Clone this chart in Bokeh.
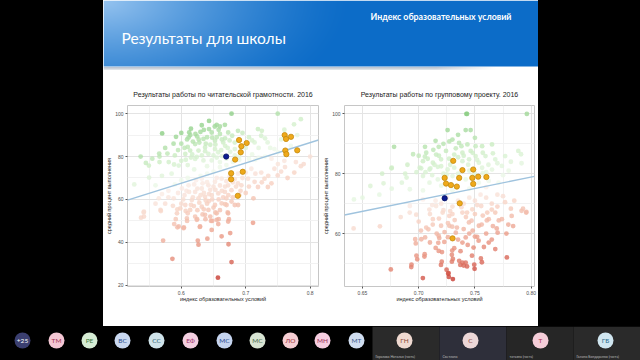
import numpy as np
from bokeh.plotting import figure
from bokeh.layouts import column, row
from bokeh.models import Range1d, FixedTicker, ColumnDataSource
from bokeh.core.properties import value
from bokeh.embed import file_html
from bokeh.resources import INLINE

# ---------------- data: reading literacy chart ----------------
lit_title = "Результаты работы по читательской грамотности. 2016"
lit_x = [0.678, 0.7497, 0.7856, 0.5703, 0.5918, 0.5369, 0.5662, 0.6113, 0.6123, 0.6318, 0.6431, 0.6549, 0.6677,
         0.6297, 0.6472, 0.66, 0.6728, 0.679, 0.6344, 0.6523, 0.6651, 0.6215, 0.6369, 0.6523, 0.6267, 0.6138,
         0.6421, 0.6574, 0.6062, 0.6215, 0.6344, 0.6472, 0.66, 0.6831, 0.6831, 0.719, 0.724, 0.734, 0.7138,
         0.7446, 0.5657, 0.5785, 0.5888, 0.5662, 0.609, 0.614, 0.635, 0.652, 0.66, 0.6246, 0.527, 0.55, 0.56,
         0.596, 0.5805, 0.5497, 0.6, 0.605, 0.618, 0.628, 0.64, 0.655, 0.668, 0.672, 0.662, 0.645, 0.632, 0.615,
         0.64, 0.655, 0.67, 0.68, 0.69, 0.7, 0.705, 0.71, 0.72, 0.73, 0.74, 0.75, 0.755, 0.77, 0.78, 0.6, 0.59,
         0.575, 0.555, 0.545, 0.62, 0.61, 0.585, 0.57, 0.65, 0.66, 0.67, 0.64, 0.63, 0.61, 0.6, 0.69, 0.705,
         0.715, 0.72,
         0.615, 0.622, 0.627, 0.638, 0.643, 0.648, 0.653, 0.658, 0.663, 0.668, 0.675, 0.683, 0.688, 0.61,
         0.617, 0.624, 0.637, 0.65, 0.663, 0.676, 0.607, 0.595, 0.588, 0.6, 0.695, 0.71, 0.725, 0.73, 0.738,
         0.76, 0.775,
         0.601, 0.6113, 0.6215, 0.6318, 0.6421, 0.6523, 0.6626, 0.6728, 0.6318, 0.6164, 0.6267, 0.6369, 0.6472,
         0.6574, 0.6677, 0.6779, 0.6062, 0.5985, 0.5933, 0.6138, 0.6318, 0.6421, 0.6523, 0.6626, 0.6703, 0.6549,
         0.6369, 0.6215, 0.6087, 0.596, 0.6036, 0.6241, 0.6462, 0.6549, 0.6574, 0.6472, 0.6292, 0.6728, 0.6728,
         0.542, 0.542, 0.5677, 0.5651, 0.5882, 0.6882, 0.6933, 0.7036, 0.7138, 0.7292, 0.719, 0.7344, 0.7446,
         0.761, 0.7779, 0.7856, 0.7754, 0.7497, 0.7087, 0.6882, 0.7241,
         0.6569, 0.678, 0.5862, 0.7113, 0.5718, 0.6256, 0.6267, 0.6405, 0.6733, 0.6759, 0.6626, 0.6288, 0.594,
         0.604, 0.589, 0.5914, 0.609, 0.6246, 0.6375, 0.648, 0.658, 0.653, 0.635, 0.65, 0.6426, 0.6195, 0.6068,
         0.5939, 0.5683, 0.5375, 0.5416, 0.672, 0.674, 0.683, 0.668,
         0.605, 0.612, 0.62, 0.625, 0.635, 0.64, 0.645, 0.65, 0.655, 0.66, 0.665, 0.67, 0.675, 0.68, 0.685, 0.69,
         0.595, 0.59, 0.58, 0.575, 0.615, 0.628, 0.64, 0.658, 0.67, 0.68, 0.695, 0.7, 0.705, 0.715, 0.725, 0.735,
         0.74, 0.755, 0.765, 0.79, 0.8, 0.76, 0.75, 0.7, 0.712,
         0.603, 0.608, 0.618, 0.623, 0.63, 0.633, 0.638, 0.643, 0.648, 0.653, 0.663, 0.668, 0.673, 0.678, 0.683,
         0.688, 0.692, 0.61, 0.625, 0.633, 0.645, 0.66, 0.6, 0.587, 0.58, 0.57, 0.56]
lit_y = [100, 100, 97.4, 90.8, 89.2, 80, 80, 88.9, 91.2, 94.6, 96.6, 94.8, 94.8,
         91.5, 91.2, 90.5, 91.2, 89.7, 88.2, 87.4, 86.6, 85.8, 84.3, 83.5, 82.8, 82.8,
         81.2, 82, 81.2, 78.9, 78.2, 78.2, 77.4, 83.5, 80.5, 92.8, 89.7, 86.6, 86.6,
         83.5, 81.4, 81.4, 76.3, 77.4, 88, 90, 92.4, 94, 94, 89.4, 67, 70.2, 66.6,
         75.8, 77.4, 75.8, 86, 84, 87, 86.5, 89, 89, 88.5, 84, 83, 85.5, 80.5, 79.5,
         75.5, 79.5, 79, 77.5, 78.5, 84, 89, 81, 84, 80, 79, 82, 88, 85, 90, 78, 80.5,
         84, 79, 77, 74, 76, 72, 71, 73, 75, 76, 72, 71, 70, 69, 80, 79,
         78.5, 79.5,
         93, 90.5, 88, 86, 92.8, 88.8, 85.6, 92.5, 88, 85, 87.5, 86.5, 92, 84.5,
         81, 79.8, 82.5, 80.5, 80.2, 82.2, 78.5, 83, 86, 91, 91, 87.5, 92, 88.5, 84,
         92.5, 95,
         65.1, 66.6, 63.5, 65.1, 66.6, 68.2, 69.7, 66.6, 69.7, 59.7, 60.5, 61.2, 62,
         62.8, 63.5, 64.3, 57.4, 55.8, 53.5, 55.1, 56.6, 55.1, 57.4, 58.2, 57.4, 53.5,
         52.8, 52, 51.2, 47.4, 46.6, 50.5, 50, 50.5, 48.5, 45.8, 47.4, 49.7, 53.5,
         54.3, 52, 55.1, 60.5, 60.5, 57.4, 66.6, 69.7, 68.2, 69.7, 65.8, 65.8, 74.3,
         75.1, 77.4, 75.5, 72.5, 71.2, 74.3, 72, 72.5,
         23.5, 30.8, 32.3, 49.1, 40.8, 40.8, 38.9, 41.7, 39.1, 44.3, 42.8, 47.2, 47,
         47, 48.5, 50.8, 50, 50.8, 50.8, 50, 50.8, 53.9, 55.4, 56.2, 59.2, 56.9, 54.6,
         55.4, 54.6, 51.5, 53.9, 53.9, 50.8, 57.4, 57.8,
         62, 63.5, 67, 65, 63, 68, 64.5, 66, 70, 66.5, 61, 68.5, 70.5, 68, 66, 62,
         63, 67, 61, 58, 57.5, 58.5, 58, 60, 60.5, 61, 70, 72.5, 66, 72, 68, 71,
         67.5, 73, 70, 76.5, 80, 78, 76.5, 63, 60.5,
         60, 64, 61, 69, 62, 67.5, 59.5, 62.5, 60, 64.5, 64, 66, 62, 59, 69.5,
         67.5, 64, 53.5, 55, 53, 52, 55, 58, 57, 64, 62.5, 58]
lit_hl_x = [0.6897, 0.6933, 0.6923, 0.7015, 0.6836, 0.6774, 0.6774, 0.6954, 0.6877,
            0.7605, 0.7626, 0.7703, 0.7615, 0.7631, 0.78]
lit_hl_y = [87.7, 84.8, 82.0, 86.3, 78.6, 72.2, 69.4, 72.9, 61.7,
            90.0, 88.2, 89.2, 82.8, 81.1, 82.9]
lit_school_x = [0.6697]
lit_school_y = [80.0]
lit_fit_x = [0.5165, 0.813]
lit_fit_y = [59.7, 87.7]
lit_xticks = [0.6, 0.7, 0.8]
lit_xlabels = ["0.6", "0.7", "0.8"]
lit_xminor = [0.55, 0.65, 0.75]
lit_yticks = [20, 40, 60, 80, 100]
lit_ylabels = ["20", "40", "60", "80", "100"]
lit_yminor = [30, 50, 70, 90]

# ---------------- data: group project chart ----------------
grp_title = "Результаты работы по групповому проекту. 2016"
grp_x = [0.7424, 0.743, 0.7962, 0.7257, 0.7418, 0.7462, 0.6781, 0.7056, 0.7178, 0.7272, 0.73, 0.7359, 0.7433,
         0.7506, 0.7564, 0.7652, 0.7769, 0.7886, 0.791, 0.7067, 0.7155, 0.7243, 0.7316, 0.7389, 0.7462, 0.7506,
         0.7594, 0.7681, 0.7038, 0.7126, 0.7199, 0.7389, 0.7448, 0.7535, 0.7009, 0.7096, 0.717, 0.7257, 0.7316,
         0.7564, 0.7652, 0.774, 0.7915, 0.676, 0.6675, 0.657, 0.6687, 0.676, 0.7038, 0.7096, 0.717, 0.7301,
         0.7418, 0.7535, 0.7623, 0.771, 0.6892, 0.6921, 0.7038, 0.6424,
         0.735, 0.728, 0.722, 0.745, 0.75, 0.76, 0.735, 0.712, 0.698, 0.69, 0.7, 0.72, 0.73, 0.745, 0.76, 0.775,
         0.78, 0.685, 0.665, 0.65, 0.715, 0.75, 0.735, 0.6758, 0.7055, 0.7104, 0.7022,
         0.708, 0.713, 0.718, 0.722, 0.727, 0.733, 0.738, 0.74, 0.744, 0.748, 0.752, 0.757, 0.762, 0.766, 0.77,
         0.725, 0.748, 0.757, 0.714, 0.706, 0.72, 0.782, 0.695, 0.688,
         0.6421, 0.6655, 0.684, 0.692, 0.6978, 0.7095, 0.6969, 0.7057, 0.7086, 0.7125, 0.7151, 0.7183, 0.7174,
         0.6987, 0.7051, 0.6934, 0.6752, 0.7037, 0.7198, 0.6936, 0.698, 0.7053, 0.7205, 0.7248, 0.7266, 0.7295,
         0.7295, 0.736, 0.7389, 0.7418, 0.7494, 0.7553, 0.7316, 0.7228, 0.7178, 0.7178, 0.7418, 0.752, 0.7389,
         0.7436, 0.7488, 0.7623, 0.7681, 0.7784, 0.7702, 0.774, 0.7827, 0.7915, 0.7956, 0.7556, 0.7447, 0.733,
         0.7272, 0.7199, 0.7126, 0.7067, 0.7023, 0.6974, 0.7213, 0.7272, 0.7389, 0.7477, 0.7623, 0.7681, 0.7535,
         0.7155, 0.7038, 0.6921,
         0.7304, 0.7262, 0.7268, 0.737, 0.74, 0.743, 0.7497, 0.7562, 0.7474, 0.7304, 0.7298, 0.7372, 0.7533,
         0.7207, 0.7298, 0.7694, 0.7797, 0.7606, 0.7712, 0.782, 0.7928, 0.7958, 0.7768,
         0.715, 0.72, 0.725, 0.73, 0.735, 0.74, 0.745, 0.75, 0.755, 0.76, 0.765, 0.77, 0.775, 0.785, 0.732,
         0.742, 0.748, 0.757, 0.723, 0.71, 0.7, 0.735, 0.745, 0.76, 0.712, 0.728, 0.75, 0.765,
         0.718, 0.722, 0.726, 0.73, 0.734, 0.738, 0.743, 0.747, 0.752, 0.756, 0.761, 0.766, 0.77, 0.716, 0.726,
         0.74, 0.75, 0.758, 0.765, 0.778, 0.784, 0.71, 0.702]
grp_y = [100, 100, 100, 94.6, 94.6, 94.6, 89, 89, 89, 90.8, 91.4, 90.3, 89.8,
         89.2, 89.2, 89.8, 85.9, 87.6, 86.5, 87, 86.4, 87.6, 86.4, 87, 87.6, 85.9,
         85.9, 84.8, 84.2, 83.7, 84.8, 84.2, 84.8, 83.7, 82, 81.4, 82.3, 81.4, 82,
         82, 81.4, 82.6, 83.5, 82, 80, 75.9, 76.8, 75, 79.2, 77, 78.1, 79.2,
         78.1, 77, 77.6, 77, 78.7, 74.8, 74.4, 71.4,
         85.5, 83, 80, 81, 80, 80.5, 80, 79.5, 80.5, 83, 86, 76, 74.5, 75, 75.5, 79.5,
         81, 77, 73, 72, 91, 92, 93, 81.8, 85.7, 81.8, 81.8,
         85, 88, 86, 90, 85, 88.5, 89.2, 86, 83, 87, 84.6, 87, 83, 86.8, 83.5,
         79.8, 79.5, 80.2, 83, 80.5, 82.5, 84, 86.5, 80,
         61.7, 62.4, 65.5, 67, 66.3, 68, 58.1, 58.7, 61.4, 63, 55.2, 58.5, 56.9,
         51.4, 52.3, 48.8, 48, 45.1, 49.5, 49.6, 52.6, 53.1, 50.6, 47.9, 46.8, 52.9,
         50.6, 50.9, 50.3, 50.3, 49.6, 51.7, 55.1, 57.2, 59.2, 54.2, 58.7, 58.9, 57,
         56.2, 55.3, 57, 54.8, 52, 60.3, 64.8, 65.9, 67.6, 67, 69.2, 63.7, 60.3,
         62.6, 62.6, 64.8, 62, 58.1, 56.7, 67, 65.9, 67, 68.1, 64.8, 67, 62.6,
         69.2, 71.4, 69.2,
         44.8, 46.6, 45.5, 49.5, 49.3, 49, 48.2, 50.4, 52.6, 51.5, 54.3, 54.1, 57.6,
         53.8, 62.3, 61.7, 63, 64.4, 64.4, 68.3, 68.3, 67.2, 70.5,
         71, 70, 72, 69, 71, 70, 72, 71, 73, 72, 70, 73, 72.5, 71, 64.5,
         65.5, 61, 66, 60.5, 66.5, 64, 58, 60, 60, 69.5, 67.5, 66.5, 68,
         65, 67.8, 63.5, 66.5, 62, 68.8, 67, 64.3, 69.5, 63, 67, 62.5, 69, 60, 58.8,
         61.5, 59, 55.5, 58, 60, 62.5, 57, 61]
grp_hl_x = [0.7307, 0.7389, 0.7485, 0.7231, 0.736, 0.7477, 0.7529, 0.7602,
            0.7243, 0.7287, 0.7339, 0.7485, 0.7365, 0.7301]
grp_hl_y = [84.3, 81.2, 81.4, 78.6, 78.6, 78.6, 79.0, 78.9,
            76.7, 76.2, 75.7, 76.6, 70.1, 58.4]
grp_school_x = [0.7231]
grp_school_y = [71.8]
grp_fit_x = [0.634, 0.803]
grp_fit_y = [66.2, 79.1]
grp_xticks = [0.65, 0.70, 0.75, 0.80]
grp_xlabels = ["0.65", "0.70", "0.75", "0.80"]
grp_xminor = [0.675, 0.725, 0.775]
grp_yticks = [60, 80, 100]
grp_ylabels = ["60", "80", "100"]
grp_yminor = [50, 70, 90]

x_label = "индекс образовательных условий"
y_label = "средний процент выполнения"

slide_title = "Результаты для школы"
slide_subtitle = "Индекс образовательных условий"

avatar_labels = ["+25", "ТМ", "РЕ", "ВС", "СС", "ЕФ", "МС", "МС", "ЛО", "МН", "МТ", "ГН", "С", "Т", "ГБ"]
tile_names = ["Горькова Наталья (гость)", "Светлана", "татьяна (гость)", "Галина Бондаренко (гость)"]

# ---------------- helpers ----------------
NEG_STOPS = [(0.0, (251, 240, 235)), (0.3, (246, 204, 188)), (0.6, (235, 156, 136)),
             (0.85, (220, 112, 96)), (1.0, (200, 60, 50))]
POS_STOPS = [(0.0, (242, 250, 239)), (0.5, (206, 238, 198)), (1.0, (140, 206, 132))]


def interp_color(t, stops):
    ts = [s[0] for s in stops]
    rgb = [int(round(np.interp(t, ts, [s[1][c] for s in stops]))) for c in range(3)]
    return "#%02x%02x%02x" % tuple(rgb)


def residual_colors(xs, ys, fx, fy):
    xs = np.asarray(xs, float)
    ys = np.asarray(ys, float)
    slope = (fy[1] - fy[0]) / (fx[1] - fx[0])
    r = ys - (fy[0] + slope * (xs - fx[0]))
    rmin, rmax = r.min(), r.max()
    cols = []
    for v in r:
        if v < 0:
            cols.append(interp_color(v / rmin, NEG_STOPS))
        else:
            cols.append(interp_color(v / rmax, POS_STOPS))
    return cols


def plain(w, h, xr, yr, bg):
    p = figure(width=w, height=h, toolbar_location=None, output_backend="svg",
               x_range=Range1d(*xr), y_range=Range1d(*yr),
               x_axis_location=None, y_axis_location=None, min_border=0)
    p.grid.visible = False
    p.outline_line_color = None
    p.background_fill_color = bg
    p.border_fill_color = bg
    return p


def make_chart(title, xs, ys, hx, hy, sx, sy, fx, fy, xr, yr,
               xt, xtl, xm, yt, ytl, ym, width, bl, br, bb):
    p = figure(width=width, height=256, x_range=Range1d(*xr), y_range=Range1d(*yr),
               toolbar_location=None, output_backend="svg",
               min_border_left=bl, min_border_right=br, min_border_top=35, min_border_bottom=bb)
    p.background_fill_color = "white"
    p.border_fill_color = "white"
    p.outline_line_color = "#c6c6c6"
    p.outline_line_width = 1
    p.title.text = title
    p.title.align = "center"
    p.title.text_font = "Liberation Sans"
    p.title.text_font_size = "7px"
    p.title.text_font_style = "normal"
    p.title.text_color = "#222222"
    p.title.standoff = 15

    xtk = FixedTicker(ticks=xt, minor_ticks=xm)
    ytk = FixedTicker(ticks=yt, minor_ticks=ym)
    p.xaxis.ticker = xtk
    p.yaxis.ticker = ytk
    p.xgrid.ticker = xtk
    p.ygrid.ticker = ytk
    p.xaxis.major_label_overrides = {t: l for t, l in zip(xt, xtl)}
    p.yaxis.major_label_overrides = {t: l for t, l in zip(yt, ytl)}
    p.grid.grid_line_color = "#e4e4e4"
    p.grid.minor_grid_line_color = "#f2f2f2"
    p.axis.axis_line_color = None
    p.axis.major_tick_line_color = "#555555"
    p.axis.major_tick_out = 2
    p.axis.major_tick_in = 0
    p.axis.minor_tick_line_color = None
    p.axis.major_label_text_font = "Liberation Sans"
    p.axis.major_label_text_font_size = "5px"
    p.axis.major_label_text_color = "#4d4d4d"
    p.axis.major_label_standoff = 0
    p.axis.axis_label_text_font = "Liberation Sans"
    p.axis.axis_label_text_font_size = "5.5px"
    p.axis.axis_label_text_font_style = "normal"
    p.axis.axis_label_text_color = "#222222"
    p.axis.axis_label_standoff = 0
    p.xaxis.axis_label_standoff = -2
    p.xaxis.axis_label = x_label
    p.yaxis.axis_label = y_label

    src = ColumnDataSource(dict(x=xs, y=ys, c=residual_colors(xs, ys, fx, fy)))
    p.scatter("x", "y", source=src, size=4.8, fill_color="c", fill_alpha=0.8, line_color=None)
    p.line(fx, fy, line_color="#9fc3de", line_width=1.4)
    p.scatter(hx, hy, size=5.3, fill_color="#efa91a", line_color="#c48a0c", line_width=0.8)
    p.scatter(sx, sy, size=5.3, fill_color="#0c1c92", line_color="#061060", line_width=0.8)
    return p


# ---------------- slide title bar (x = screen x, y = 70 - screen y) ----------------
header = plain(435, 70, (103, 538), (0, 70), "white")

HW, HH = 435, 66
img = np.empty((HH, HW), dtype=np.uint32)
view = img.view(dtype=np.uint8).reshape((HH, HW, 4))
cols_x = np.arange(HW) + 0.5
rows_y = 66 - (np.arange(HH) + 0.5)
XX, YY = np.meshgrid(cols_x, rows_y)
d = np.sqrt((XX / 250.0) ** 2 + (YY / 130.0) ** 2)
w = np.clip(1 - d, 0, 1) ** 1.4
dark = np.array([12, 108, 200])
light = np.array([150, 196, 240])
for c in range(3):
    view[:, :, c] = (dark[c] + (light[c] - dark[c]) * w).astype(np.uint8)
view[:, :, 3] = 255
header.image_rgba(image=[img], x=103, y=4, dw=435, dh=66)

SW = 392
simg = np.empty((3, SW), dtype=np.uint32)
sv = simg.view(dtype=np.uint8).reshape((3, SW, 4))
sv[:, :, 0] = 176
sv[:, :, 1] = 186
sv[:, :, 2] = 200
alpha = np.clip((SW - np.arange(SW)) / 60.0, 0, 1) * 210
for rr, k in enumerate([0.5, 0.8, 1.0]):
    sv[rr, :, 3] = (alpha * k).astype(np.uint8)
header.image_rgba(image=[simg], x=103, y=0.5, dw=SW, dh=3)

header.text(x=[121], y=[70 - 37], text=[slide_title], text_font=value("Lato"),
            text_font_size="15.5px", text_color="white", text_baseline="middle", text_align="left")
header.text(x=[511], y=[70 - 16], text=[slide_subtitle], text_font=value("Lato"),
            text_font_size="8.8px", text_font_style="bold", text_color="white",
            text_baseline="middle", text_align="right")

# ---------------- charts ----------------
left = make_chart(lit_title, lit_x, lit_y, lit_hl_x, lit_hl_y, lit_school_x, lit_school_y,
                  lit_fit_x, lit_fit_y, (0.5165, 0.813), (19.4, 103.8),
                  lit_xticks, lit_xlabels, lit_xminor, lit_yticks, lit_ylabels, lit_yminor,
                  217, 22, 2, 38)
right = make_chart(grp_title, grp_x, grp_y, grp_hl_x, grp_hl_y, grp_school_x, grp_school_y,
                   grp_fit_x, grp_fit_y, (0.634, 0.803), (42.3, 102.8),
                   grp_xticks, grp_xlabels, grp_xminor, grp_yticks, grp_ylabels, grp_yminor,
                   218, 21, 4, 40)

# ---------------- side bars and participants strip ----------------
side_left = plain(103, 326, (0, 1), (0, 1), "black")
side_right = plain(102, 326, (0, 1), (0, 1), "black")

footer = plain(640, 34, (0, 640), (360, 326), "black")
tile_left = [372, 439, 506, 573]
tile_right = [439, 506, 573, 640]
tile_color = ["#2a2a2a", "#2e2f3a", "#262626", "#2a2a2a"]
footer.quad(left=tile_left, right=tile_right, top=[326] * 4, bottom=[360] * 4,
            fill_color=tile_color, line_color=None)
footer.text(x=[t + 3 for t in tile_left], y=[356] * 4, text=tile_names, text_font=value("Lato"),
            text_font_size="3.5px", text_color="#bbbbbb", text_align="left", text_baseline="middle")

av_x = [22, 56, 89, 122, 156, 190, 224, 257, 290, 322, 356, 404, 470, 540, 605]
av_fill = ["#3b3f70", "#f4c7d4", "#d6ecd4", "#c9d8f0", "#cfe3ea", "#f4cfe0", "#c5d4ef", "#d8e4d3",
           "#f6ced3", "#f6cde0", "#d0ddf0", "#efd9d0", "#ecd7d7", "#f5cdd8", "#d0e6f0"]
av_txt = ["#ffffff", "#a3304f", "#3d7a3d", "#2a4c8a", "#2f6070", "#a0306a", "#2a4890", "#4a6a4a",
          "#a0303a", "#a0305a", "#3a5a8a", "#8a4a3a", "#8a4040", "#b03050", "#2a6a8a"]
footer.scatter(x=av_x, y=[340] * len(av_x), size=16, fill_color=av_fill, line_color=None)
footer.text(x=av_x, y=[340] * len(av_x), text=avatar_labels, text_font=value("Lato"),
            text_font_size="6.5px", text_color=av_txt, text_align="center", text_baseline="middle")

charts = row(left, right, styles={"background-color": "white"})
slide = column(header, charts, styles={"background-color": "white"})
top = row(side_left, slide, side_right, styles={"background-color": "black"})
layout = column(top, footer, styles={"background-color": "black"})

open("out.html", "w").write(file_html(layout, INLINE))
